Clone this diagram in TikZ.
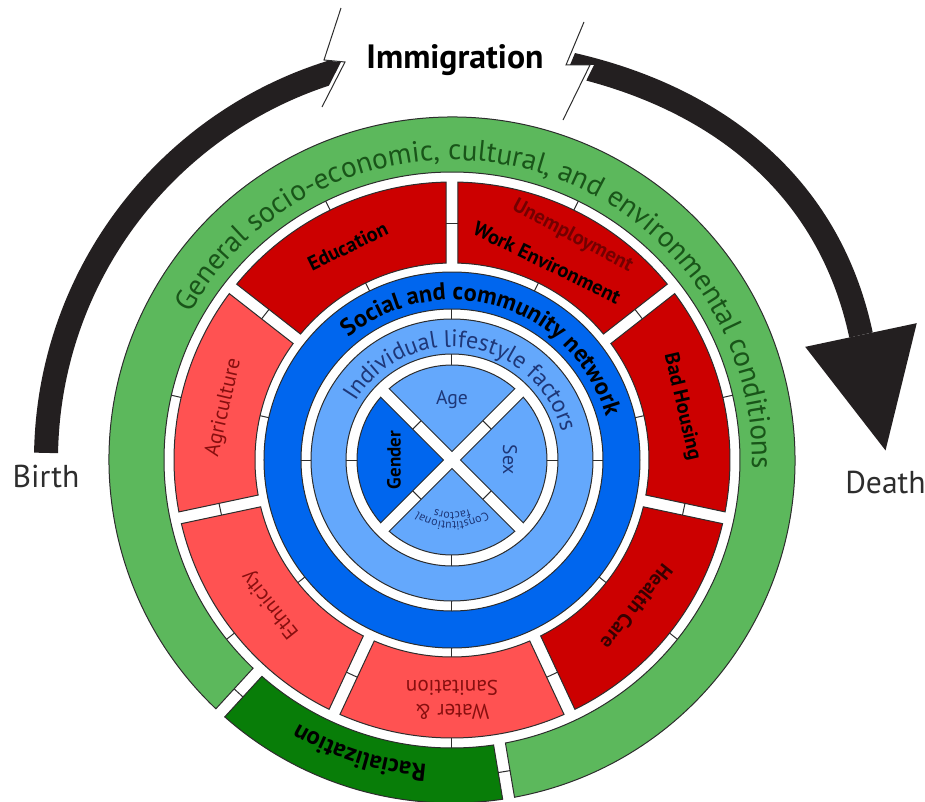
\documentclass[tikz,border=0pt]{standalone}
\usepackage{fontspec}
\setmainfont{PT Sans}
\usetikzlibrary{positioning,calc,decorations.text}

\definecolor{greenring}{RGB}{92,184,92}
\definecolor{racegreen}{RGB}{8,125,8}
\definecolor{greentext}{RGB}{25,85,25}
\definecolor{darkred}{RGB}{204,0,0}
\definecolor{lightred}{RGB}{255,82,82}
\definecolor{redtext}{RGB}{135,15,15}
\definecolor{unemptext}{RGB}{115,0,0}
\definecolor{socialblue}{RGB}{0,102,238}
\definecolor{paleblue}{RGB}{100,168,252}
\definecolor{bluetext}{RGB}{30,55,120}
\definecolor{edge}{RGB}{45,45,45}
\definecolor{lifeblack}{RGB}{35,31,32}

\newcommand{\segGap}{6}
% annular sector: style, start angle, end angle, inner r, outer r
\newcommand{\ringseg}[5]{%
  \path[#1] ({#2+asin(\segGap/#5)}:#5)
    arc[start angle={#2+asin(\segGap/#5)}, end angle={#3-asin(\segGap/#5)}, radius=#5]
    -- ({#3-asin(\segGap/#4)}:#4)
    arc[start angle={#3-asin(\segGap/#4)}, end angle={#2+asin(\segGap/#4)}, radius=#4] -- cycle;}
% quarter of the inner disc: style, middle angle
\newcommand{\quadseg}[2]{%
  \path[#1] (#2:8.5) -- ({#2-45+asin(\segGap/95)}:95)
    arc[start angle={#2-45+asin(\segGap/95)}, end angle={#2+45-asin(\segGap/95)}, radius=95] -- cycle;}

\begin{document}
\begin{tikzpicture}[
x=0.25mm, y=0.25mm,
seg/.style={draw=edge, line width=0.25mm},
tick/.style={draw=edge, line width=0.25mm},
bolt/.style={draw=edge, line width=0.25mm},
lifeline/.style={draw=lifeblack, line width=6mm},
lifetext/.style={inner sep=0pt, text=edge, font=\fontsize{22.5}{24}\selectfont},
seglabel/.style={align=center, inner sep=0pt, text=redtext, font=\fontsize{15}{17}\selectfont},
boldlabel/.style={align=center, inner sep=0pt, font=\bfseries\fontsize{14.5}{17}\selectfont},
corelabel/.style={inner sep=0pt, text=bluetext, font=\fontsize{14}{15}\selectfont}
]

\useasboundingbox (-452,-341) rectangle (473,460);

% outer ring
\ringseg{seg, fill=greenring}{-80.5}{227.5}{288}{343}
\ringseg{seg, fill=racegreen}{227.5}{279.5}{288}{343}

% red ring
\foreach \a/\b/\c in {90/142/darkred, 38/90/darkred, -12/38/darkred, -65/-12/darkred,
  245/295/lightred, 192/245/lightred, 142/192/lightred}
  \ringseg{seg, fill=\c}{\a}{\b}{197}{278};

% blue rings
\path[seg, fill=socialblue, even odd rule] (0,0) circle (188) (0,0) circle (151);
\path[seg, fill=paleblue, even odd rule] (0,0) circle (141) (0,0) circle (106);

% inner disc
\quadseg{seg, fill=paleblue}{90}
\quadseg{seg, fill=socialblue}{180}
\quadseg{seg, fill=paleblue}{270}
\quadseg{seg, fill=paleblue}{0}

% joints
\foreach \a in {0,90,180,270} {
  \draw[tick] (\a:95) -- (\a:106);
  \draw[tick] (\a:141) -- (\a:151);
}
\foreach \a in {116,64,13,321.5,270,218.5,167} {
  \draw[tick] (\a:188) -- (\a:197);
  \draw[tick] (\a:278) -- (\a:288);
}
\foreach \a in {38,90,142,192,245,295,348}
  \draw[tick] ({\a-asin(\segGap/237)}:237) -- ({\a+asin(\segGap/237)}:237);
\foreach \a in {45,135,225,315}
  \draw[tick] ({\a-asin(\segGap/50)}:50) -- ({\a+asin(\segGap/50)}:50);
\foreach \a in {227.5,279.5}
  \draw[tick] ({\a-asin(\segGap/316)}:316) -- ({\a+asin(\segGap/316)}:316);

% ring texts
\path[decorate, decoration={text along path, text align=center,
  text={|\fontsize{20.8}{21}\selectfont\color{greentext}|General socio-economic, cultural, and environmental conditions}}]
  (170:300) arc[start angle=170, end angle=-21, radius=300];
\path[decorate, decoration={text along path, text align=center,
  text={|\bfseries\fontsize{17.3}{17}\selectfont\color{black}|Social and community network}}]
  (160:160) arc[start angle=160, end angle=-14, radius=160];
\path[decorate, decoration={text along path, text align=center,
  text={|\fontsize{17}{17}\selectfont\color{bluetext}|Individual lifestyle factors}}]
  (170:113) arc[start angle=170, end angle=-7, radius=113];
\path[decorate, decoration={text along path, text align=center,
  text={|\bfseries\fontsize{17.5}{17.5}\selectfont\color{black}|Racialization}}]
  (300:305) arc[start angle=300, end angle=205, radius=305];
\path[decorate, decoration={text along path, text align=center,
  text={|\fontsize{8.5}{8.5}\selectfont\color{bluetext}|Constitutional}}]
  (340:62) arc[start angle=340, end angle=200, radius=62];
\path[decorate, decoration={text along path, text align=center,
  text={|\fontsize{8.5}{8.5}\selectfont\color{bluetext}|factors}}]
  (340:52) arc[start angle=340, end angle=200, radius=52];

% segment labels
\node[boldlabel, rotate=26] (educ) at (116:238) {Education};
\node[boldlabel, rotate=-28, text=unemptext] (unemp) at (61.7:254) {Unemployment};
\node[boldlabel, rotate=-26] (work) at (64.3:219) {Work Environment};
\node[boldlabel, rotate=-77] (housing) at (13:236) {Bad Housing};
\node[boldlabel, rotate=231.5, text={rgb,255:red,55;green,0;blue,0}] (health) at (321.5:236) {Health Care};
\node[seglabel, rotate=180] (water) at (270:240) {Water \&\\Sanitation};
\node[seglabel, rotate=128.5] (ethnic) at (218.5:232) {Ethnicity};
\node[seglabel, rotate=77] (agri) at (167:234) {Agriculture};

\node[corelabel] (age) at (90:60) {Age};
\node[corelabel, rotate=-90] (sex) at (0:58) {Sex};
\node[corelabel, rotate=90, text=black, font=\bfseries\fontsize{13.5}{15}\selectfont] (gender) at (180:58) {Gender};

% life course
\coordinate (born) at (179:406);
\coordinate (dend) at (409,125);
\begin{scope}
  \clip (-470,470) -- (-109,470) -- (-115,452) -- (-132,400) -- (-111,398) -- (-134,353)
    -- (-161,300) -- (-161,-100) -- (-470,-100) -- cycle;
  \draw[lifeline] (born) arc[start angle=179, end angle=95, radius=406];
\end{scope}
\begin{scope}
  \clip (149,470) -- (136,438) -- (118,395) -- (142,395) -- (115,340) -- (95,300)
    -- (95,-100) -- (480,-100) -- (480,470) -- cycle;
  \draw[lifeline] (85:410) to[out=-5, in=102] (dend);
\end{scope}
\coordinate (tip) at ($(dend)+(-78:118)$);
\fill[lifeblack] ($(dend)+(12:57)$) -- (tip) -- ($(dend)+(192:57)$) -- cycle;
\draw[bolt] (-111,452) -- (-128,400) -- (-107,398) -- (-130,353);
\draw[bolt] (132,438) -- (114,395) -- (138,395) -- (111,340);

\node[inner sep=0pt, font=\bfseries\fontsize{24}{25}\selectfont] (immig) at (3,400) {Immigration};
\node[lifetext, below=3mm of born] (birth) {Birth};
\node[lifetext, below=5mm of tip] (death) {Death};

\end{tikzpicture}
\end{document}
